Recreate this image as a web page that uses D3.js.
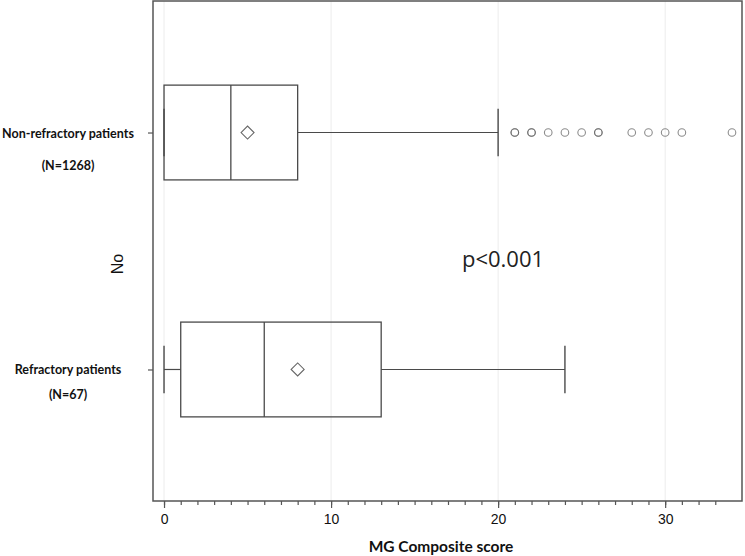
<!DOCTYPE html>
<html>
  <head>
    <script src="https://cdn.jsdelivr.net/npm/d3@7"></script>
    <style>
      body { margin: 0; background: #fff; }
    </style>
  </head>
  <body>
    <script>

    // Groups, top to bottom
    var groups = ["Non-refractory patients", "Refractory patients"];
    var groupN = ["(N=1268)", "(N=67)"];

    // Box stats: whisker low, q1, median, q3, whisker high, mean
    var whiskLow = [0, 0];
    var q1 = [0, 1];
    var median = [4, 6];
    var q3 = [8, 13];
    var whiskHigh = [20, 24];
    var means = [5, 8];

    // Outliers (repeated values drawn twice, they look darker)
    var outliersNonRef = [21, 21, 22, 22, 23, 24, 25, 26, 26, 28, 29, 30, 31, 34];
    var outliersRef = [];

    var majorTicks = [0, 10, 20, 30];
    var minorTicks = d3.range(0, 34);

    // Sizing
    var margin = {top: 1, right: 3, bottom: 55, left: 153};
    var W = 745, H = 556;
    var w = W - margin.left - margin.right;
    var h = H - margin.top - margin.bottom;

    var x = d3.scaleLinear()
      .domain([-0.66, 34.6])
      .range([0, w]);

    var y = d3.scalePoint()
      .domain(groups)
      .range([0, h])
      .padding(0.555);

    var boxH = y.step() * 0.4;

    var svg = d3.select("body").append("svg")
      .attr("width", W)
      .attr("height", H)
      .style("display", "block");

    var g = svg.append("g")
      .attr("transform", "translate(" + margin.left + "," + margin.top + ")");

    // Grid lines at major ticks
    g.selectAll(".grid")
      .data(majorTicks)
      .enter().append("line")
        .attr("x1", d => x(d)).attr("x2", d => x(d))
        .attr("y1", 0).attr("y2", h)
        .attr("stroke", "#ececec")
        .attr("stroke-width", 1);

    var stroke = "#4a4a4a";

    // Boxes
    groups.forEach(function(name, i) {
      var cy = y(name);
      var bg = g.append("g");

      // whisker lines
      bg.append("line")
        .attr("x1", x(whiskLow[i])).attr("x2", x(q1[i]))
        .attr("y1", cy).attr("y2", cy)
        .attr("stroke", stroke).attr("stroke-width", 1.2);
      bg.append("line")
        .attr("x1", x(q3[i])).attr("x2", x(whiskHigh[i]))
        .attr("y1", cy).attr("y2", cy)
        .attr("stroke", stroke).attr("stroke-width", 1.2);

      // caps
      [whiskLow[i], whiskHigh[i]].forEach(function(v) {
        bg.append("line")
          .attr("x1", x(v)).attr("x2", x(v))
          .attr("y1", cy - boxH / 4).attr("y2", cy + boxH / 4)
          .attr("stroke", stroke).attr("stroke-width", 1.4);
      });

      // box
      bg.append("rect")
        .attr("x", x(q1[i]))
        .attr("y", cy - boxH / 2)
        .attr("width", x(q3[i]) - x(q1[i]))
        .attr("height", boxH)
        .attr("fill", "none")
        .attr("stroke", stroke).attr("stroke-width", 1.3);

      // median
      bg.append("line")
        .attr("x1", x(median[i])).attr("x2", x(median[i]))
        .attr("y1", cy - boxH / 2).attr("y2", cy + boxH / 2)
        .attr("stroke", stroke).attr("stroke-width", 1.3);

      // mean diamond
      var mx = x(means[i]), d = 6.5;
      bg.append("path")
        .attr("d", "M" + (mx - d) + "," + cy + "L" + mx + "," + (cy - d) +
          "L" + (mx + d) + "," + cy + "L" + mx + "," + (cy + d) + "Z")
        .attr("fill", "none")
        .attr("stroke", "#666").attr("stroke-width", 1.1);
    });

    // Outliers
    g.selectAll(".out")
      .data(outliersNonRef.map(v => ({v: v, g: groups[0]}))
        .concat(outliersRef.map(v => ({v: v, g: groups[1]}))))
      .enter().append("circle")
        .attr("cx", d => x(d.v))
        .attr("cy", d => y(d.g))
        .attr("r", 3.8)
        .attr("fill", "none")
        .attr("stroke", "#666")
        .attr("stroke-opacity", 0.75)
        .attr("stroke-width", 1.1);

    // Frame
    g.append("rect")
      .attr("x", 0).attr("y", 0)
      .attr("width", w).attr("height", h)
      .attr("fill", "none")
      .attr("stroke", "#555")
      .attr("stroke-width", 1.5);

    // Minor and major ticks on the x axis
    var minorAxis = d3.axisBottom(x).tickValues(minorTicks).tickSize(4).tickFormat("");
    var majorAxis = d3.axisBottom(x).tickValues(majorTicks).tickSize(7).tickPadding(6);

    var xa1 = g.append("g").attr("transform", "translate(0," + h + ")").call(minorAxis);
    var xa2 = g.append("g").attr("transform", "translate(0," + h + ")").call(majorAxis);
    [xa1, xa2].forEach(function(a) {
      a.select(".domain").remove();
      a.selectAll("line").attr("stroke", "#555").attr("stroke-width", 1.2);
    });
    xa2.selectAll("text")
      .attr("fill", "#111")
      .style("font-family", "'Liberation Sans', Arial, sans-serif")
      .style("font-size", "14px");

    // y axis ticks
    var yAxis = d3.axisLeft(y).tickSize(5).tickFormat("");
    var ya = g.append("g").call(yAxis);
    ya.select(".domain").remove();
    ya.selectAll("line").attr("stroke", "#555").attr("stroke-width", 1.2);

    // Category labels
    groups.forEach(function(name, i) {
      svg.append("text")
        .attr("x", 68)
        .attr("y", margin.top + y(name) + 5)
        .attr("text-anchor", "middle")
        .style("font-family", "Lato, sans-serif")
        .style("font-weight", "bold")
        .style("font-size", "12.5px")
        .attr("fill", "#111")
        .text(name);
      svg.append("text")
        .attr("x", 68)
        .attr("y", margin.top + y(name) + (i === 0 ? 37 : 30))
        .attr("text-anchor", "middle")
        .style("font-family", "Lato, sans-serif")
        .style("font-weight", "bold")
        .style("font-size", "12.5px")
        .attr("fill", "#111")
        .text(groupN[i]);
    });

    // Axis titles
    svg.append("text")
      .attr("text-anchor", "middle")
      .attr("transform", "translate(123,264)rotate(-90)")
      .style("font-family", "'Liberation Sans', Arial, sans-serif")
      .style("font-size", "16px")
      .attr("fill", "#111")
      .text("No");

    svg.append("text")
      .attr("x", 441)
      .attr("y", 552)
      .attr("text-anchor", "middle")
      .style("font-family", "Lato, sans-serif")
      .style("font-weight", "bold")
      .style("font-size", "15.5px")
      .attr("fill", "#111")
      .text("MG Composite score");

    // p-value annotation
    svg.append("text")
      .attr("x", 503)
      .attr("y", 267)
      .attr("text-anchor", "middle")
      .style("font-family", "'Open Sans', sans-serif")
      .style("font-size", "22px")
      .attr("fill", "#222")
      .text("p<0.001");

    </script>
  </body>
</html>
